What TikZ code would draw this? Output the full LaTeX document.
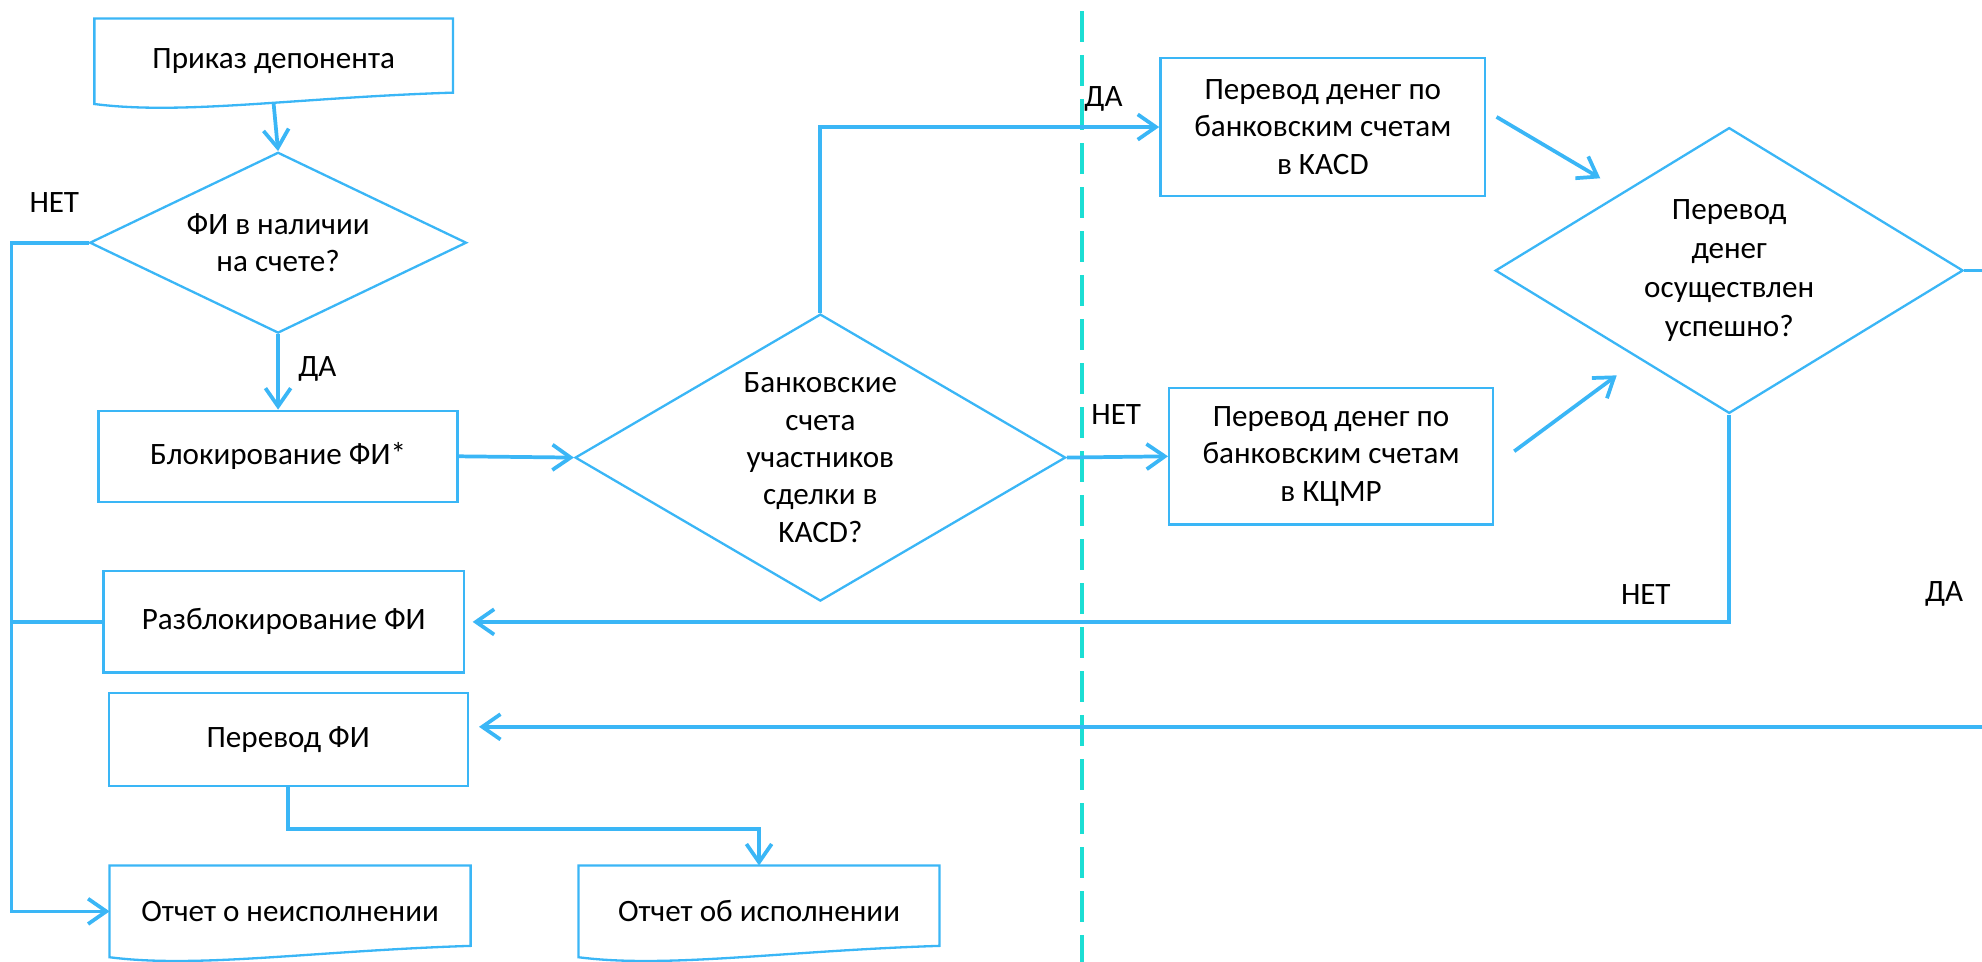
\documentclass[tikz,border=0pt]{standalone}
\usepackage{fontspec}
\setmainfont{Carlito}
\usetikzlibrary{shapes.geometric, arrows.meta, positioning}

\definecolor{flowblue}{RGB}{58,182,246}
\definecolor{sepcyan}{RGB}{28,222,212}

\tikzset{
    box/.style={draw=flowblue, line width=1.3pt, rectangle, align=center, inner sep=0pt},
    doc/.style={rectangle, align=center, inner sep=0pt},
    decision/.style={draw=flowblue, line width=1.3pt, diamond, aspect=1.7, align=center, inner sep=-0.5cm},
    docline/.style={draw=flowblue, line width=1.3pt},
    flow/.style={draw=flowblue, line width=2.1pt},
    arr/.style={flow, -{Straight Barb[length=0.36cm,width=0.5cm]}},
}

\begin{document}
\begin{tikzpicture}[x=0.025cm, y=-0.025cm,
    every node/.style={font=\fontsize{17.5}{21}\selectfont}]
    \useasboundingbox (0,0) rectangle (1568,761);

    % separator
    \draw[sepcyan, line width=1.8pt, dash pattern=on 0.6cm off 0.27cm] (856,9) -- (856,761);

    % left column
    \node[doc, minimum width=7.075cm, minimum height=1.675cm] (prikaz) at (216.5,48.5) {Приказ депонента};
    \node[decision, minimum width=7.45cm, minimum height=3.575cm] (d1) at (220,192) {ФИ в наличии\\на счете?};
    \node[box, minimum width=7.1cm, minimum height=1.8cm] (blok) at (220,361) {Блокирование ФИ*};
    \node[box, minimum width=7.125cm, minimum height=2cm] (razblok) at (224.5,492) {Разблокирование ФИ};
    \node[box, minimum width=7.1cm, minimum height=1.85cm] (perevodfi) at (228,585) {Перевод ФИ};
    \node[doc, minimum width=7.125cm, minimum height=1.8cm] (neisp) at (229.5,721) {Отчет о неисполнении};
    \node[doc, minimum width=7.125cm, minimum height=1.8cm] (isp) at (600.5,721) {Отчет об исполнении};

    % middle and right
    \node[decision, minimum width=9.7cm, minimum height=5.675cm] (d2) at (649,362) {Банковские\\счета\\участников\\сделки в\\KACD?};
    \node[box, minimum width=6.425cm, minimum height=2.725cm] (kacd) at (1046.5,100.5) {Перевод денег по\\банковским счетам\\в KACD};
    \node[box, minimum width=6.4cm, minimum height=2.7cm] (kcmr) at (1053,361) {Перевод денег по\\банковским счетам\\в КЦМР};
    \node[decision, minimum width=9.25cm, minimum height=5.65cm, font=\fontsize{17.5}{22}\selectfont] (d3) at (1368,214) {Перевод\\денег\\осуществлен\\успешно?};

    % document outlines
    \foreach \n in {prikaz,neisp,isp}
        \draw[docline] ([yshift=0.225cm]\n.south east) -- (\n.north east) -- (\n.north west) -- (\n.south west)
            .. controls +(1.75cm,-0.225cm) and +(-3.125cm,-0.1cm) .. ([yshift=0.225cm]\n.south east) -- cycle;

    % labels
    \node (no1) at (43,160) {НЕТ};
    \node (yes1) at (251,292) {ДА};
    \node (yes2) at (873,78) {ДА};
    \node (no2) at (883,328) {НЕТ};
    \node (no3) at (1302,470) {НЕТ};
    \node (yes3) at (1538,470) {ДА};

    % connectors
    \coordinate (rail) at (9,192);
    \coordinate (rimA) at (1568,214);
    \coordinate (rimB) at (1568,575);
    \draw[arr] (prikaz.south) -- (d1.north);
    \draw[arr] (d1.west) -- (rail) |- (neisp.west);
    \draw[flow] (razblok.west) -- (razblok.west -| rail);
    \draw[arr] (d1.south) -- (blok.north);
    \draw[arr] (blok.east) -- (d2.west);
    \draw[arr] (d2.north) |- (kacd.west);
    \draw[arr] (d2.east) -- (kcmr.west);
    \draw[arr] ([shift={(8,-8)}]kacd.east) -- ([shift={(-9,-16)}]d3.north west);
    \draw[arr] ([shift={(16,-4)}]kcmr.east) -- ([shift={(4,26)}]d3.south west);
    \draw[arr, shorten >=0.15cm] (d3.south) |- (razblok.east);
    \draw[flow] (d3.east) -- (rimA);
    \draw[arr, shorten >=0.2cm] (rimB) -- (rimB -| perevodfi.east);
    \draw[arr] (perevodfi.south) -- ++(0,33) -| (isp.north);
\end{tikzpicture}
\end{document}
